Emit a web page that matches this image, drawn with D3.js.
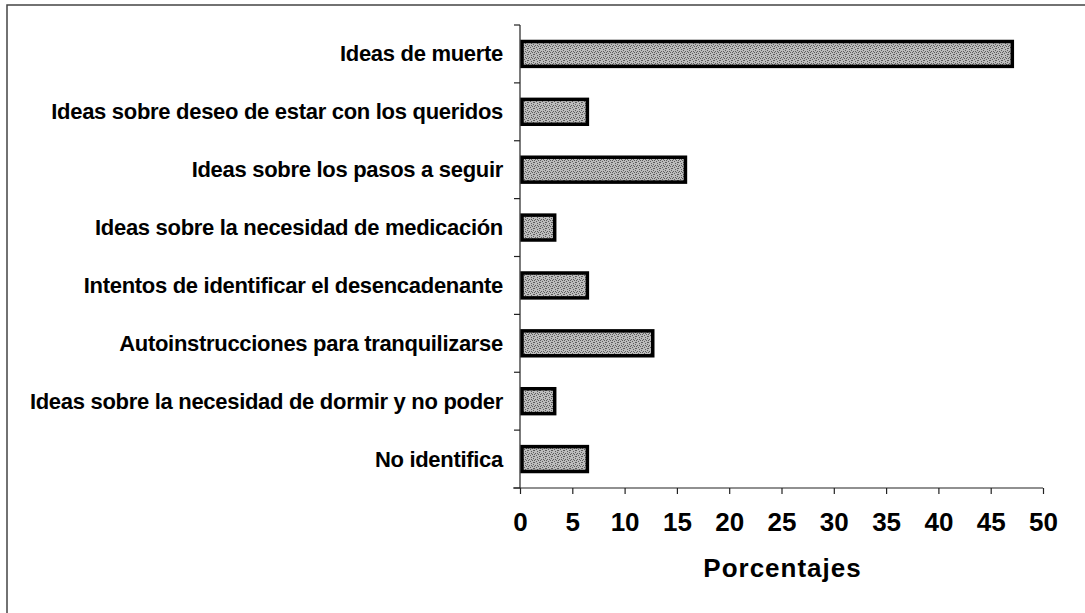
<!DOCTYPE html>
<html><head><meta charset="utf-8">
<script src="https://cdn.jsdelivr.net/npm/d3@7/dist/d3.min.js"></script>
<style>body{margin:0;background:#fff;} svg{display:block;}</style>
</head><body>
<svg id="chart" width="1085" height="613"></svg>
<script>
const categories = [
  "Ideas de muerte",
  "Ideas sobre deseo de estar con los queridos",
  "Ideas sobre los pasos a seguir",
  "Ideas sobre la necesidad de medicación",
  "Intentos de identificar el desencadenante",
  "Autoinstrucciones para tranquilizarse",
  "Ideas sobre la necesidad de dormir y no poder",
  "No identifica"
];
const values = [46.875, 6.25, 15.625, 3.125, 6.25, 12.5, 3.125, 6.25];
const xTicks = [0, 5, 10, 15, 20, 25, 30, 35, 40, 45, 50];
const xTitle = "Porcentajes";

const svg = d3.select("#chart");
const pLeft = 520, pRight = 1043, pTop = 25, pBottom = 488;
const FONT = "Liberation Sans, Arial, sans-serif";

// outer frame
svg.append("rect").attr("x", 7).attr("y", 5).attr("width", 1100).attr("height", 700)
  .attr("fill", "none").attr("stroke", "#444").attr("stroke-width", 1.5);

// stipple pattern
const defs = svg.append("defs");
const pat = defs.append("pattern").attr("id", "stip").attr("patternUnits", "userSpaceOnUse")
  .attr("width", 6).attr("height", 6);
pat.append("rect").attr("width", 6).attr("height", 6).attr("fill", "#bdbdbd");
[[0,0],[3,1],[1,3],[4,4],[2,5],[5,2],[0,4],[3,3],[5,0]].forEach(([a,b]) =>
  pat.append("rect").attr("x", a).attr("y", b).attr("width", 1).attr("height", 1).attr("fill", "#5e5e5e"));

const x = d3.scaleLinear().domain([0, 50]).range([pLeft, pRight]);
const y = d3.scaleBand().domain(categories).range([pTop, pBottom]).paddingInner(0.57).paddingOuter(0.285);

// bars
svg.append("g").selectAll("rect").data(values).join("rect")
  .attr("x", x(0) + 2)
  .attr("y", (d, i) => y(categories[i]))
  .attr("width", d => x(d) - x(0))
  .attr("height", y.bandwidth())
  .attr("fill", "url(#stip)")
  .attr("stroke", "#000").attr("stroke-width", 3.5);

// y axis line + ticks at band boundaries
const yb = d3.scaleLinear().domain([0, categories.length]).range([pTop, pBottom]);
const gy = svg.append("g").attr("stroke", "#222").attr("stroke-width", 1.2);
gy.append("line").attr("x1", pLeft).attr("x2", pLeft).attr("y1", pTop).attr("y2", pBottom);
gy.selectAll("line.t").data(d3.range(categories.length + 1)).join("line").attr("class", "t")
  .attr("x1", pLeft - 6).attr("x2", pLeft).attr("y1", d => yb(d)).attr("y2", d => yb(d));

// category labels
svg.append("g").selectAll("text").data(categories).join("text")
  .attr("x", 503).attr("y", d => y(d) + y.bandwidth() / 2)
  .attr("text-anchor", "end").attr("dominant-baseline", "central")
  .attr("font-family", FONT).attr("font-weight", "bold")
  .attr("font-size", 22).attr("letter-spacing", "-0.3px").attr("fill", "#000")
  .text(d => d);

// x axis
const xAxis = d3.axisBottom(x).tickValues(xTicks).tickSize(6).tickPadding(19);
const gx = svg.append("g").attr("transform", `translate(0,${pBottom})`).call(xAxis);
gx.select(".domain").attr("d", `M${pLeft - 7},0H${pRight}`).attr("stroke", "#222").attr("stroke-width", 1.2);
gx.selectAll(".tick line").attr("stroke", "#222").attr("stroke-width", 1.2);
gx.selectAll(".tick text").attr("font-family", FONT)
  .attr("font-weight", "bold").attr("font-size", 26).attr("fill", "#000");

svg.append("text").attr("x", (pLeft + pRight) / 2 + 1).attr("y", 577)
  .attr("text-anchor", "middle")
  .attr("font-family", FONT).attr("font-weight", "bold")
  .attr("font-size", 26).attr("letter-spacing", "1px").attr("fill", "#000").text(xTitle);
</script>
</body></html>
